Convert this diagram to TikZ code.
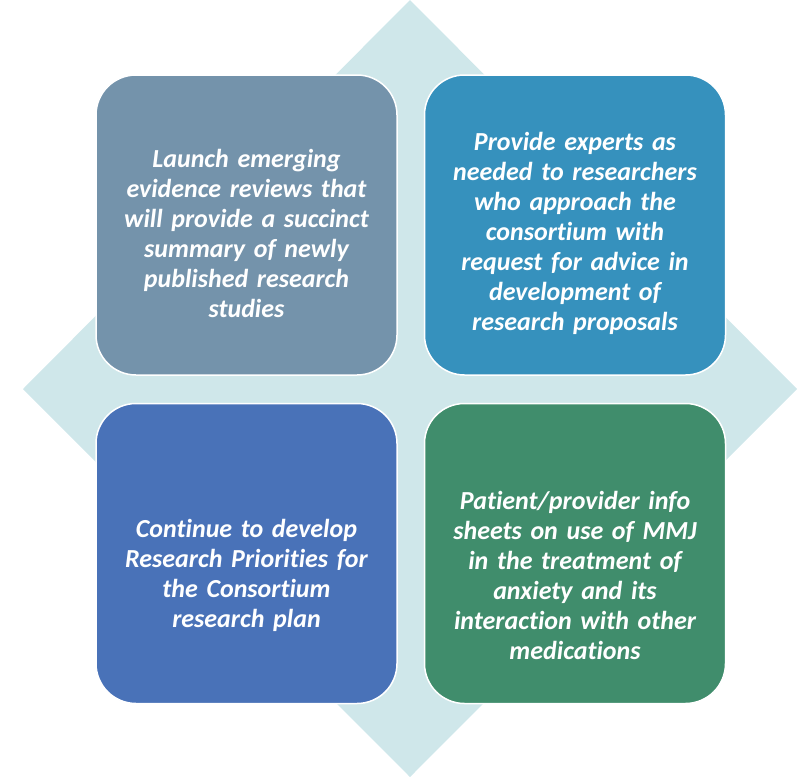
\documentclass[tikz,border=0pt]{standalone}
\usepackage{fontspec}
\setmainfont{Carlito}[Ligatures=NoCommon]
\usepackage{xcolor}
\definecolor{dmdteal}{RGB}{207,231,234}
\definecolor{qslate}{RGB}{116,147,171}
\definecolor{qsky}{RGB}{54,145,189}
\definecolor{qroyal}{RGB}{73,114,184}
\definecolor{qgreen}{RGB}{64,141,108}
\usepackage{tikz}
\usetikzlibrary{positioning,backgrounds}

\begin{document}
\begin{tikzpicture}[
  x=1pt,y=-1pt,
  font=\fontsize{26}{30}\selectfont\bfseries\itshape,
  quad/.style={draw=white,line width=1.5pt,rounded corners=40pt,minimum width=301pt,minimum height=300pt,inner sep=0pt},
  txt/.style={text=white,align=center,text width=295pt,inner sep=0pt},
]
\useasboundingbox (0,0) rectangle (812,777);

\node[quad,fill=qslate] (tl) at (246.5,225) {};
\node[quad,fill=qsky,right=26pt of tl] (tr) {};
\node[quad,fill=qroyal,below=27pt of tl] (bl) {};
\node[quad,fill=qgreen,right=26pt of bl] (br) {};

% diamond behind the four boxes
\begin{scope}[on background layer]
  \fill[dmdteal] (410,0) -- (797,389) -- (410,777) -- (23,389) -- cycle;
\end{scope}

\node[txt] (tltext) at ([yshift=-8pt]tl.center) {Launch emerging\\evidence reviews that\\will provide a succinct\\summary of newly\\published research\\studies};
\node[txt] (trtext) at ([yshift=-8pt]tr.center) {Provide experts as\\needed to researchers\\who approach the\\consortium with\\request for advice in\\development of\\research proposals};
\node[txt] (bltext) at ([yshift=-22pt]bl.center) {Continue to develop\\Research Priorities for\\the Consortium\\research plan};
\node[txt] (brtext) at ([yshift=-22pt]br.center) {Patient/provider info\\sheets on use of MMJ\\in the treatment of\\anxiety and its\\interaction with other\\medications};
\end{tikzpicture}
\end{document}
